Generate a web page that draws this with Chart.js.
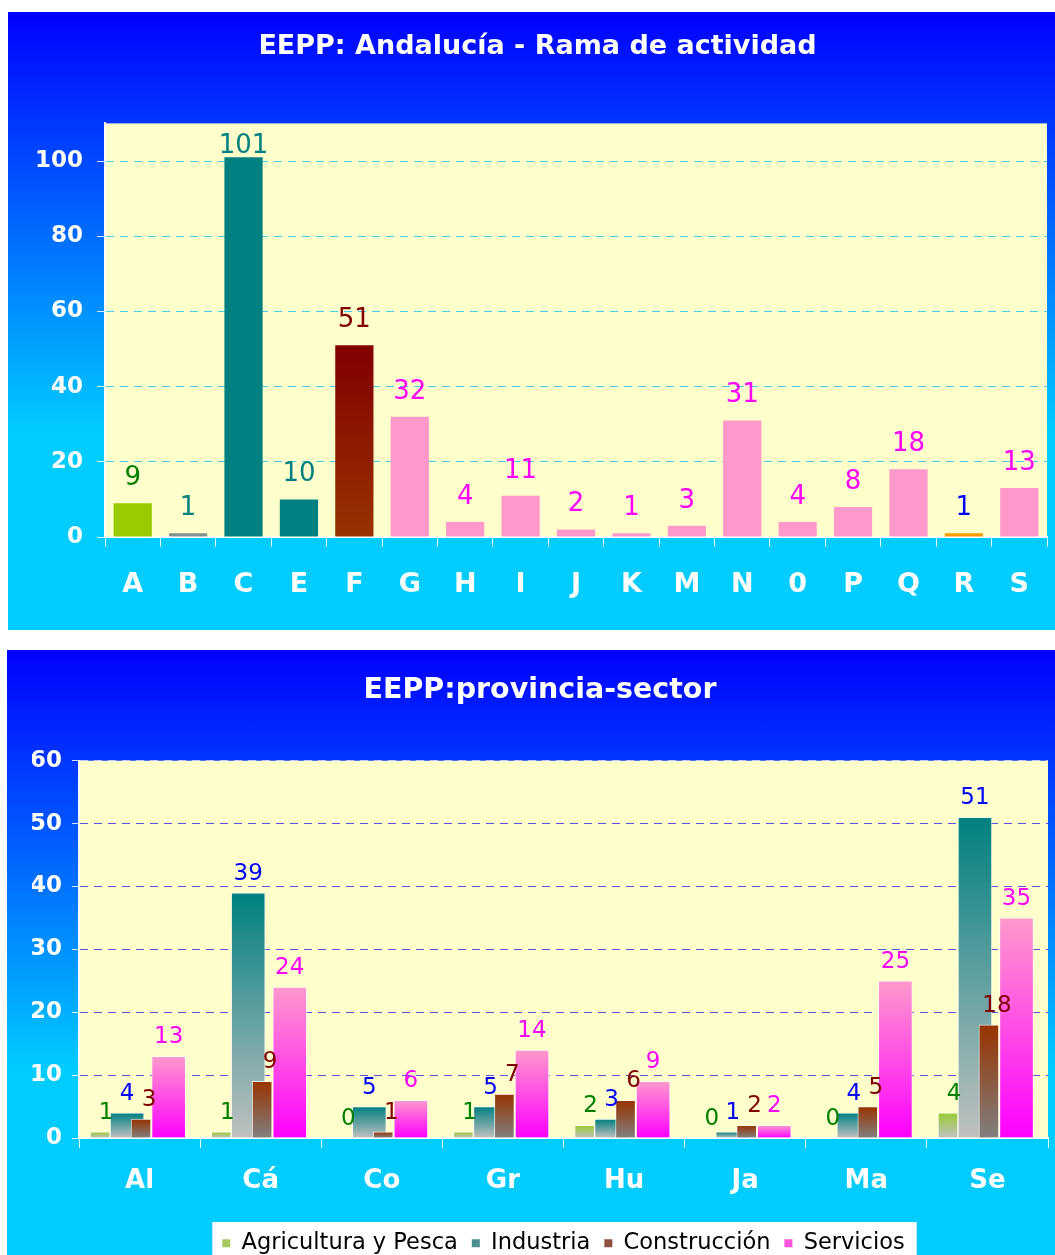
<!DOCTYPE html>
<html>
<head>
<meta charset="utf-8">
<script src="https://cdn.jsdelivr.net/npm/chart.js@4.4.0/dist/chart.umd.min.js"></script>
<style>
  body { margin: 0; background: #fff; overflow: hidden; }
  .panel { position: absolute; background: linear-gradient(to bottom, #0000FF 0%, #00CCFF 68%, #00CCFF 100%); }
  #p1 { left: 8px; top: 12px; width: 1047px; height: 618px; }
  #p2 { left: 7px; top: 650px; width: 1048px; height: 618px; }
</style>
</head>
<body>
<div class="panel" id="p1"><canvas id="ramaChart"></canvas></div>
<div class="panel" id="p2"><canvas id="provChart"></canvas></div>
<script>
// Grafico 1: empresas por rama de actividad
const ramas = ['A', 'B', 'C', 'E', 'F', 'G', 'H', 'I', 'J', 'K', 'M', 'N', '0', 'P', 'Q', 'R', 'S'];
const empresasRama = [9, 1, 101, 10, 51, 32, 4, 11, 2, 1, 3, 31, 4, 8, 18, 1, 13];

// Grafico 2: empresas por provincia y sector
const provincias = ['Al', 'Cá', 'Co', 'Gr', 'Hu', 'Ja', 'Ma', 'Se'];
const agricultura = [1, 1, 0, 1, 2, 0, 0, 4];
const industria = [4, 39, 5, 5, 3, 1, 4, 51];
const construccion = [3, 9, 1, 7, 6, 2, 5, 18];
const servicios = [13, 24, 6, 14, 9, 2, 25, 35];

const FONT = '"DejaVu Sans", Verdana, sans-serif';

// colores de barra (arriba / abajo) y de etiqueta para el grafico 1
const ramaTop = ['#99CC00', '#7A8C8C', '#008080', '#008080', '#800000', '#FF99CC', '#FF99CC', '#FF99CC', '#FF99CC',
                 '#FF99CC', '#FF99CC', '#FF99CC', '#FF99CC', '#FF99CC', '#FF99CC', '#FF9900', '#FF99CC'];
const ramaBottom = ['#99CC00', '#8C9898', '#008080', '#008080', '#993300', '#FF99CC', '#FF99CC', '#FF99CC', '#FF99CC',
                    '#FF99CC', '#FF99CC', '#FF99CC', '#FF99CC', '#FF99CC', '#FF99CC', '#FF9900', '#FF99CC'];
const ramaLabelColor = ['#008000', '#008080', '#008080', '#008080', '#800000', '#FF00FF', '#FF00FF', '#FF00FF', '#FF00FF',
                        '#FF00FF', '#FF00FF', '#FF00FF', '#FF00FF', '#FF00FF', '#FF00FF', '#0000FF', '#FF00FF'];

function vGradient(context, top, bottom) {
    const chart = context.chart;
    if (!chart.chartArea || context.type !== 'data') return top;
    const y0 = chart.scales.y.getPixelForValue(0);
    const y1 = chart.scales.y.getPixelForValue(context.parsed.y);
    if (y0 - y1 < 1) return top;
    const g = chart.ctx.createLinearGradient(0, y1, 0, y0);
    g.addColorStop(0, top);
    g.addColorStop(1, bottom);
    return g;
}

// fondo amarillo del area de dibujo + caja blanca de la leyenda
const plotBg = {
    id: 'plotBg',
    beforeDraw(chart) {
        const { ctx, chartArea } = chart;
        ctx.save();
        ctx.fillStyle = '#FFFFCC';
        ctx.fillRect(chartArea.left, chartArea.top, chartArea.right - chartArea.left, chartArea.bottom - chartArea.top);
        const lg = chart.legend;
        if (lg && lg.options.display && lg.legendHitBoxes && lg.legendHitBoxes.length) {
            const hb = lg.legendHitBoxes;
            const last = hb[hb.length - 1];
            const x0 = hb[0].left - 10;
            const x1 = last.left + last.width + 12;
            const y0 = hb[0].top - 10;
            ctx.fillStyle = '#FFFFFF';
            ctx.fillRect(x0, y0, x1 - x0, chart.height - y0);
        }
        ctx.restore();
    }
};

// numeros encima de cada barra
const valueLabels = {
    id: 'valueLabels',
    afterDatasetsDraw(chart, args, opts) {
        const ctx = chart.ctx;
        ctx.save();
        ctx.font = opts.size + 'px ' + FONT;
        ctx.textAlign = 'center';
        ctx.textBaseline = 'alphabetic';
        chart.data.datasets.forEach((ds, di) => {
            const meta = chart.getDatasetMeta(di);
            meta.data.forEach((bar, i) => {
                const v = meta.controller.getParsed(i).y;
                ctx.fillStyle = Array.isArray(ds.labelColor) ? ds.labelColor[i] : ds.labelColor;
                const y = Math.max(bar.y - opts.gap, chart.chartArea.top + opts.minTop);
                ctx.fillText(String(v), bar.x + (ds.labelDx || 0), y);
            });
        });
        ctx.restore();
    }
};

new Chart(document.getElementById('ramaChart'), {
    type: 'bar',
    data: {
        labels: ramas,
        datasets: [{
            data: empresasRama,
            backgroundColor: (c) => vGradient(c, ramaTop[c.dataIndex], ramaBottom[c.dataIndex]),
            labelColor: ramaLabelColor,
            categoryPercentage: 1,
            barPercentage: 0.69
        }]
    },
    options: {
        responsive: true,
        maintainAspectRatio: false,
        animation: false,
        layout: { padding: { left: 20, right: 8, top: 0, bottom: 0 } },
        plugins: {
            legend: { display: false },
            tooltip: { enabled: false },
            title: {
                display: true,
                text: 'EEPP: Andalucía - Rama de actividad',
                color: '#FFFFFF',
                font: { family: FONT, size: 27, weight: 'bold' },
                padding: { top: 19, bottom: 60 }
            },
            valueLabels: { size: 26, gap: 18, minTop: 30 }
        },
        scales: {
            x: {
                grid: { drawOnChartArea: false, offset: true, tickLength: 10, color: 'rgba(255,255,255,0.85)' },
                border: { color: '#FFFFFF', width: 2 },
                ticks: { color: '#FFFFFF', font: { family: FONT, size: 27, weight: 'bold' }, padding: 22, maxRotation: 0, autoSkip: false },
                afterFit: (s) => { s.height = 93; }
            },
            y: {
                min: 0,
                max: 110,
                ticks: {
                    stepSize: 20,
                    color: '#FFFFFF',
                    font: { family: FONT, size: 23, weight: 'bold' },
                    padding: 14,
                    callback: (v) => (v % 20 === 0 ? v : '')
                },
                grid: {
                    tickLength: 8,
                    color: (c) => (c.tick && (c.tick.value === 0 || c.tick.value === 110) ? 'rgba(0,0,0,0)' : '#44CCEE'),
                    tickColor: (c) => (c.tick && c.tick.value === 110 ? 'rgba(0,0,0,0)' : 'rgba(255,255,255,0.85)')
                },
                border: { color: '#FFFFFF', width: 2, dash: [8, 6] },
                afterFit: (s) => { s.width = 77; }
            }
        }
    },
    plugins: [plotBg, valueLabels]
});

// grafico 2: barras con degradado, separadas a mano dentro de cada provincia
const sectores = [
    { label: 'Agricultura y Pesca', values: agricultura, top: '#99CC33', bottom: '#C0C0C0', text: '#008000', legend: '#A8C860' },
    { label: 'Industria', values: industria, top: '#008080', bottom: '#C0C0C0', text: '#0000FF', legend: '#4A8E8E' },
    { label: 'Construcción', values: construccion, top: '#993300', bottom: '#808080', text: '#800000', legend: '#8E5040' },
    { label: 'Servicios', values: servicios, top: '#FF99CC', bottom: '#FF00FF', text: '#FF00FF', legend: '#FF55DD' }
];
const barShift = [-0.326, -0.103, 0.012, 0.24];
const barWidth = [20, 34, 20, 34];
const labelShift = [6, 0, 8, 0];
const drawOrder = [0, 1, 0, 0];

new Chart(document.getElementById('provChart'), {
    type: 'bar',
    data: {
        datasets: sectores.map((s, k) => ({
            label: s.label,
            data: s.values.map((v, i) => ({ x: i + barShift[k], y: v })),
            backgroundColor: (c) => vGradient(c, s.top, s.bottom),
            borderColor: 'rgba(255,255,255,0.7)',
            borderWidth: 1,
            barThickness: barWidth[k],
            grouped: false,
            order: drawOrder[k],
            labelColor: s.text,
            labelDx: labelShift[k]
        }))
    },
    options: {
        responsive: true,
        maintainAspectRatio: false,
        animation: false,
        layout: { padding: { left: 25, right: 7, top: 0, bottom: 3.5 } },
        plugins: {
            tooltip: { enabled: false },
            title: {
                display: true,
                text: 'EEPP:provincia-sector',
                color: '#FFFFFF',
                font: { family: FONT, size: 28.5, weight: 'bold' },
                padding: { top: 23, bottom: 53.5 }
            },
            legend: {
                position: 'bottom',
                fullSize: false,
                labels: {
                    color: '#000000',
                    font: { family: FONT, size: 22.5 },
                    boxWidth: 8,
                    boxHeight: 8,
                    padding: 14,
                    generateLabels: (chart) => chart.data.datasets.map((ds, i) => ({
                        text: ds.label,
                        fillStyle: sectores[i].legend,
                        strokeStyle: sectores[i].legend,
                        lineWidth: 0,
                        fontColor: '#000000',
                        hidden: false,
                        datasetIndex: i
                    }))
                }
            },
            valueLabels: { size: 23, gap: 13, minTop: 24 }
        },
        scales: {
            x: {
                type: 'linear',
                min: -0.5,
                max: provincias.length - 0.5,
                offset: false,
                grid: {
                    drawOnChartArea: false,
                    offset: false,
                    tickLength: 10,
                    color: (c) => (c.tick && Number.isInteger(c.tick.value) ? 'rgba(0,0,0,0)' : 'rgba(255,255,255,0.85)')
                },
                border: { color: '#FFFFFF', width: 2 },
                ticks: {
                    stepSize: 0.5,
                    autoSkip: false,
                    maxRotation: 0,
                    color: '#FFFFFF',
                    font: { family: FONT, size: 26, weight: 'bold' },
                    padding: 18,
                    callback: (v) => (Number.isInteger(v) ? provincias[v] : '')
                },
                afterFit: (s) => {
                    s.height = 80;
                    s.paddingLeft = 0;
                    s.paddingRight = 0;
                }
            },
            y: {
                min: 0,
                max: 60,
                ticks: {
                    stepSize: 10,
                    color: '#FFFFFF',
                    font: { family: FONT, size: 23, weight: 'bold' },
                    padding: 10
                },
                grid: {
                    tickLength: 7,
                    color: (c) => {
                        if (!c.tick || c.tick.value === 0) return 'rgba(0,0,0,0)';
                        return c.tick.value === 60 ? 'rgba(255,255,255,0.6)' : '#5555DD';
                    },
                    tickColor: 'rgba(255,255,255,0.85)'
                },
                border: { color: '#FFFFFF', width: 2, dash: [8, 6] },
                afterFit: (s) => { s.width = 47; }
            }
        }
    },
    plugins: [plotBg, valueLabels]
});
</script>
</body>
</html>
